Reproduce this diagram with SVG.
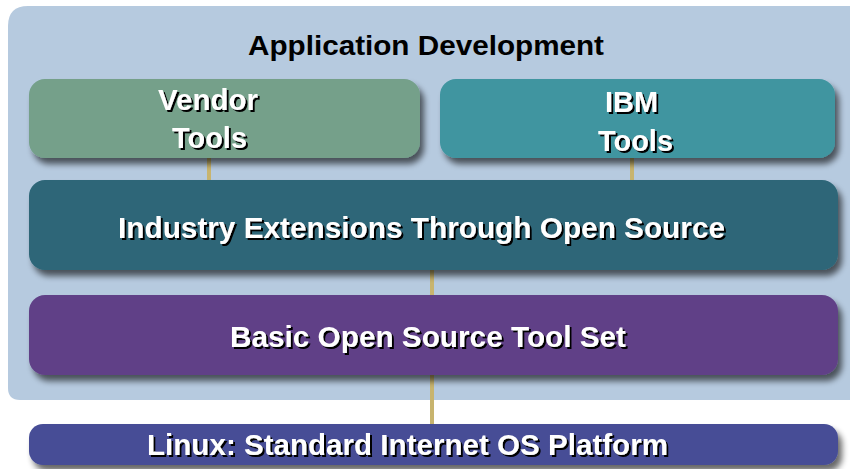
<svg xmlns="http://www.w3.org/2000/svg" width="850" height="469" viewBox="0 0 850 469">
<defs>
<filter id="sh" x="-5%" y="-20%" width="115%" height="160%">
<feGaussianBlur in="SourceAlpha" stdDeviation="3"/>
<feOffset dx="4" dy="6" result="b"/>
<feComponentTransfer><feFuncA type="linear" slope="0.6"/></feComponentTransfer>
<feMerge><feMergeNode/><feMergeNode in="SourceGraphic"/></feMerge>
</filter>
<filter id="ts" x="-5%" y="-20%" width="110%" height="150%">
<feOffset in="SourceAlpha" dx="2" dy="2" result="o"/>
<feMerge><feMergeNode in="o"/><feMergeNode in="SourceGraphic"/></feMerge>
</filter>
</defs>
<style>
.lbl{font-family:"Liberation Sans",Arial,sans-serif;font-weight:bold;fill:#ffffff;font-size:29px;filter:url(#ts)}
.title{font-family:"Liberation Sans",Arial,sans-serif;font-weight:bold;fill:#000000;font-size:28px}
.conn{stroke:#c8b46e;stroke-width:4;fill:none}
</style>
<rect width="850" height="469" fill="#ffffff"/>
<path d="M8,26 Q8,6 28,6 L850,6 L850,400 L20,400 Q8,400 8,388 Z" fill="#b6cadf"/>
<text class="title" x="248" y="55" textLength="356" lengthAdjust="spacingAndGlyphs">Application Development</text>
<g id="connectors">
<line class="conn" x1="209" y1="155" x2="209" y2="182"/>
<line class="conn" x1="632" y1="155" x2="632" y2="182"/>
<line class="conn" x1="432" y1="268" x2="432" y2="297"/>
<line class="conn" x1="432" y1="372" x2="432" y2="428"/>
</g>
<g id="vendor">
<rect x="29" y="79" width="391" height="79" rx="16" fill="#74a08a" filter="url(#sh)"/>
<text class="lbl" x="158" y="110" textLength="100" lengthAdjust="spacingAndGlyphs">Vendor</text>
<text class="lbl" x="172" y="148" textLength="75" lengthAdjust="spacingAndGlyphs">Tools</text>
</g>
<g id="ibm">
<rect x="440" y="79" width="395" height="79" rx="16" fill="#3f95a0" filter="url(#sh)"/>
<text class="lbl" x="605" y="112" textLength="53" lengthAdjust="spacingAndGlyphs">IBM</text>
<text class="lbl" x="598" y="151" textLength="75" lengthAdjust="spacingAndGlyphs">Tools</text>
</g>
<g id="industry">
<rect x="29" y="180" width="809" height="90" rx="16" fill="#2d6678" filter="url(#sh)"/>
<text class="lbl" x="118" y="238" textLength="607" lengthAdjust="spacingAndGlyphs">Industry Extensions Through Open Source</text>
</g>
<g id="basic">
<rect x="29" y="295" width="809" height="80" rx="16" fill="#614187" filter="url(#sh)"/>
<text class="lbl" x="230" y="347" textLength="396" lengthAdjust="spacingAndGlyphs">Basic Open Source Tool Set</text>
</g>
<g id="linux">
<rect x="29" y="424" width="809" height="41" rx="14" fill="#464d96" filter="url(#sh)"/>
<text class="lbl" x="147" y="455" textLength="521" lengthAdjust="spacingAndGlyphs">Linux: Standard Internet OS Platform</text>
</g>
</svg>
